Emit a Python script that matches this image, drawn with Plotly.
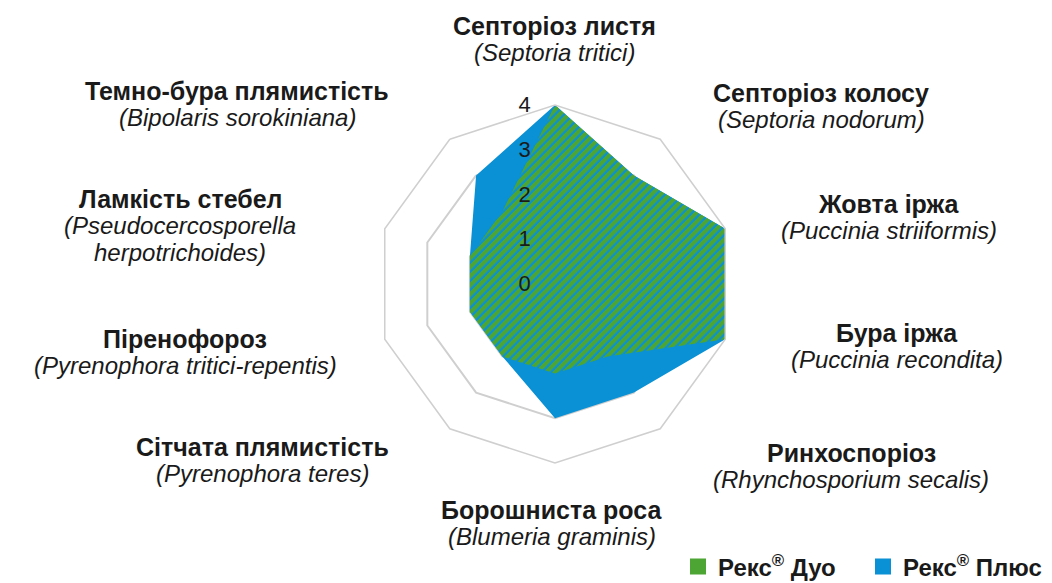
import plotly.graph_objects as go

# ---- data ----
categories = [
    "Септоріоз листя",
    "Септоріоз колосу",
    "Жовта іржа",
    "Бура іржа",
    "Ринхоспоріоз",
    "Борошниста роса",
    "Сітчата плямистість",
    "Піренофороз",
    "Ламкість стебел",
    "Темно-бура плямистість",
]
latin_names = [
    ["(Septoria tritici)"],
    ["(Septoria nodorum)"],
    ["(Puccinia striiformis)"],
    ["(Puccinia recondita)"],
    ["(Rhynchosporium secalis)"],
    ["(Blumeria graminis)"],
    ["(Pyrenophora teres)"],
    ["(Pyrenophora tritici-repentis)"],
    ["(Pseudocercosporella", "herpotrichoides)"],
    ["(Bipolaris sorokiniana)"],
]
rex_duo = [4, 3, 4, 4, 2, 2, 2, 2, 2, 2]
rex_plus = [4, 3, 4, 4, 3, 3, 2, 2, 2, 3]
radial_ticks = [0, 1, 2, 3, 4]
series_names = ["Рекс<sup>®</sup> Дуо", "Рекс<sup>®</sup> Плюс"]

# ---- styling ----
W, H = 1052, 583
BLUE = "#0a90d4"
GREEN = "#4da634"
GRID = "#cfcfcf"
TXT = "#1a1a1a"
FONT = "Liberation Sans, Arial, sans-serif"
LINE_GAP = 26.5

# centre of the first (bold) line of each label, in pixels
label_pos = [
    (554, 26), (821, 93), (889, 204), (897, 333), (851, 453),
    (552, 510), (262, 447), (185, 339), (180, 199), (237, 91),
]

fig = go.Figure()

fig.add_trace(go.Scatterpolar(
    r=rex_plus, theta=categories, fill="toself", fillcolor=BLUE,
    mode="lines", line=dict(width=0, color=BLUE), showlegend=False,
    hoverinfo="skip",
))
fig.add_trace(go.Scatterpolar(
    r=rex_duo, theta=categories, fill="toself", fillcolor=GREEN,
    mode="lines", line=dict(width=0, color=GREEN), showlegend=False,
    hoverinfo="skip",
))

# legend keys
for name, col in zip(series_names, [GREEN, BLUE]):
    fig.add_trace(go.Scatterpolar(
        r=[None], theta=[categories[0]], mode="markers",
        marker=dict(symbol="square", size=20, color=col),
        name="<b>" + name + "</b>", showlegend=True,
    ))

for cat, lat, (px, py) in zip(categories, latin_names, label_pos):
    lines = [("<b>" + cat + "</b>", 25)] + [("<i>" + s + "</i>", 24) for s in lat]
    for i, (txt, fs) in enumerate(lines):
        fig.add_annotation(
            x=px / W, y=1 - (py + i * LINE_GAP) / H, xref="paper", yref="paper",
            xanchor="center", yanchor="middle", text=txt, showarrow=False,
            font=dict(family=FONT, size=fs, color=TXT),
        )

cx, cy, R = 555, 284, 179
fig.update_layout(
    width=W, height=H,
    margin=dict(l=0, r=0, t=0, b=0, autoexpand=False),
    paper_bgcolor="white", plot_bgcolor="white",
    font=dict(family=FONT, size=20, color=TXT),
    polar=dict(
        domain=dict(x=[(cx - R) / W, (cx + R) / W], y=[1 - (cy + R) / H, 1 - (cy - R) / H]),
        bgcolor="white",
        gridshape="linear",
        angularaxis=dict(
            rotation=90, direction="clockwise", showticklabels=False, ticks="",
            showgrid=False, showline=True, linecolor=GRID, linewidth=1.5,
        ),
        radialaxis=dict(
            range=[0, 4], tickvals=radial_ticks, angle=90, tickangle=90,
            side="counterclockwise", showline=False,
            ticks="outside", ticklen=16, tickcolor="rgba(0,0,0,0)",
            gridcolor=GRID, gridwidth=1.5,
            tickfont=dict(family=FONT, size=22, color=TXT),
        ),
    ),
    legend=dict(
        orientation="h", x=678 / W, y=1 - 567 / H, xanchor="left", yanchor="middle",
        font=dict(family=FONT, size=24, color=TXT), entrywidth=140,
        bgcolor="rgba(0,0,0,0)",
    ),
)

post_js = """
(function(){
  document.body.style.margin = '0';
  var gd = document.getElementById('{plot_id}');
  var ns = 'http://www.w3.org/2000/svg';
  function apply(){
    var svg = gd.querySelector('svg.main-svg');
    if (!svg) return;
    var defs = svg.querySelector('defs');
    if (!defs.querySelector('#greenStripes')) {
      var pat = document.createElementNS(ns, 'pattern');
      pat.setAttribute('id', 'greenStripes');
      pat.setAttribute('patternUnits', 'userSpaceOnUse');
      pat.setAttribute('width', '6.4');
      pat.setAttribute('height', '20');
      pat.setAttribute('patternTransform', 'rotate(45)');
      var r1 = document.createElementNS(ns, 'rect');
      r1.setAttribute('width', '6.4'); r1.setAttribute('height', '20');
      r1.setAttribute('fill', '__BLUE__');
      var r2 = document.createElementNS(ns, 'rect');
      r2.setAttribute('width', '4.2'); r2.setAttribute('height', '20');
      r2.setAttribute('fill', '__GREEN__');
      pat.appendChild(r1); pat.appendChild(r2);
      defs.appendChild(pat);
    }
    var fills = gd.querySelectorAll('.scatterlayer .trace path.js-fill');
    if (fills.length > 1) fills[1].style.fill = 'url(#greenStripes)';
  }
  apply();
  gd.on('plotly_afterplot', apply);
})();
""".replace("__BLUE__", BLUE).replace("__GREEN__", GREEN)

fig.write_html("out.html", post_script=post_js, config={"displayModeBar": False})
